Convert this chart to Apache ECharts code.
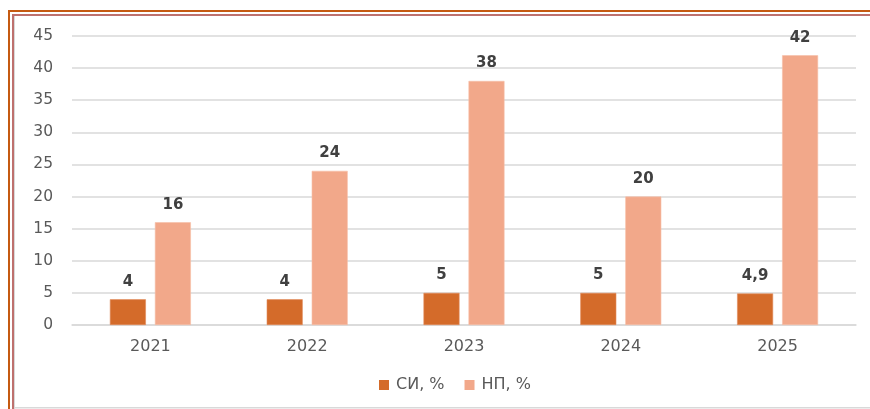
<!DOCTYPE html>
<html><head><meta charset="utf-8">
<script src="https://cdn.jsdelivr.net/npm/echarts@6/dist/echarts.min.js"></script>
<style>html,body{margin:0;padding:0;background:#fff}#c{width:870px;height:409px}</style>
</head><body><div id="c"></div>
<script>
const categories = ['2021','2022','2023','2024','2025'];
const siValues = [4, 4, 5, 5, 4.9];
const npValues = [16, 24, 38, 20, 42];
const seriesNames = ['СИ, %', 'НП, %'];

const chart = echarts.init(document.getElementById('c'), null, {renderer:'canvas'});
const font = 'DejaVu Sans';
const lbl = {show:true, position:'top', distance:10, color:'#404040', fontFamily:font, fontSize:15, fontWeight:'bold',
  formatter: p => String(p.value).replace('.', ',')};
chart.setOption({
  animation:false,
  backgroundColor:'#fff',
  grid:{left:72, right:14, top:36, bottom:84, containLabel:false},
  legend:{top:372, left:374, itemWidth:10, itemHeight:10, itemGap:20,
    itemStyle:{borderWidth:0},
    textStyle:{color:'#595959', fontFamily:font, fontSize:16, padding:[0,0,0,2]},
    data:seriesNames, icon:'rect'},
  xAxis:{type:'category', data:categories,
    axisLine:{lineStyle:{color:'#d9d9d9', width:1.5}}, axisTick:{show:false},
    axisLabel:{color:'#595959', fontFamily:font, fontSize:16, margin:14}},
  yAxis:{type:'value', min:0, max:45, interval:5,
    axisLine:{show:false}, axisTick:{show:false},
    splitLine:{lineStyle:{color:'#d9d9d9', width:1.5}},
    axisLabel:{color:'#595959', fontFamily:font, fontSize:15.5, margin:19}},
  series:[
    {name:seriesNames[0], type:'bar', data:siValues, barWidth:36, barGap:'25%',
      itemStyle:{color:'#D46B2A', borderColor:'#E0895A', borderWidth:0.6}, label:lbl},
    {name:seriesNames[1], type:'bar', data:npValues, barWidth:36,
      itemStyle:{color:'#F2A88A', borderColor:'#F6C0A8', borderWidth:0.6}, label:lbl}
  ],
  graphic:[
    {type:'rect', silent:true, z:100, shape:{x:8, y:10, width:2, height:399}, style:{fill:'#C55A11'}},
    {type:'rect', silent:true, z:100, shape:{x:8, y:10, width:862, height:2}, style:{fill:'#C55A11'}},
    {type:'rect', silent:true, z:100, shape:{x:12, y:14, width:2, height:395}, style:{fill:'#BE716E'}},
    {type:'rect', silent:true, z:100, shape:{x:12, y:14, width:858, height:2}, style:{fill:'#BE716E'}},
    {type:'rect', silent:true, z:100, shape:{x:14, y:16, width:1, height:393}, style:{fill:'#d9d9d9'}},
    {type:'rect', silent:true, z:100, shape:{x:14, y:407, width:856, height:1.5}, style:{fill:'#d9d9d9'}}
  ]
});
</script></body></html>
